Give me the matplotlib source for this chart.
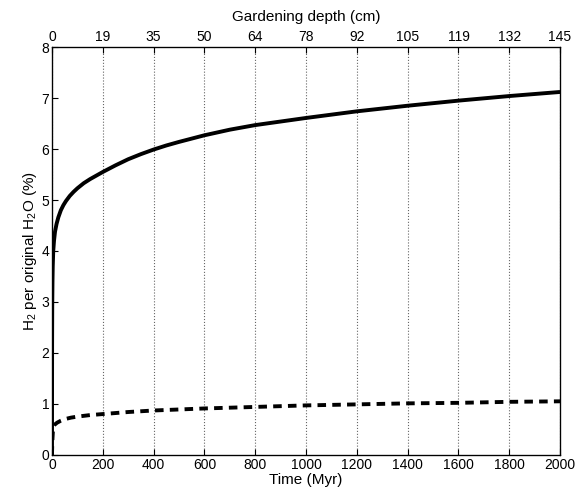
import matplotlib
matplotlib.use("Agg")
import matplotlib.pyplot as plt
import numpy as np

plt.rcParams["font.family"] = ["Liberation Sans", "DejaVu Sans"]
plt.rcParams["mathtext.fontset"] = "custom"
plt.rcParams["mathtext.rm"] = "Liberation Sans"

# solid curve: H2 per original H2O (%) vs time (Myr)
time_solid = [0, 0.5, 1, 2, 3, 5, 8, 12, 18, 25, 35, 45, 55, 70, 85, 100, 125, 150,
              175, 200, 250, 300, 350, 400, 450, 500, 600, 700, 800, 900, 1000,
              1200, 1400, 1600, 1800, 2000]
h2_solid = [0, 2.2, 2.9, 3.4, 3.7, 4.0, 4.2, 4.38, 4.53, 4.66, 4.8, 4.9, 4.98, 5.08,
            5.16, 5.23, 5.33, 5.41, 5.48, 5.55, 5.68, 5.8, 5.9, 5.99, 6.07, 6.14,
            6.27, 6.38, 6.47, 6.54, 6.61, 6.74, 6.85, 6.95, 7.04, 7.12]

# dashed curve
time_dash = [0, 1, 2, 4, 6, 10, 20, 35, 50, 75, 100, 150, 200, 300, 400, 600,
             800, 1000, 1200, 1400, 1600, 1800, 2000]
h2_dash = [0, 0.2, 0.32, 0.5, 0.56, 0.59, 0.63, 0.67, 0.7, 0.73, 0.75, 0.78, 0.8,
           0.84, 0.87, 0.91, 0.94, 0.97, 0.99, 1.01, 1.02, 1.04, 1.05]

x_ticks = [0, 200, 400, 600, 800, 1000, 1200, 1400, 1600, 1800, 2000]
depth_labels = ["0", "19", "35", "50", "64", "78", "92", "105", "119", "132", "145"]

fig = plt.figure(figsize=(5.84, 4.96), dpi=100)
ax = fig.add_axes([0.089, 0.083, 0.870, 0.822])

ax.plot(time_solid, h2_solid, color="black", linewidth=2.8, solid_capstyle="butt")
ax.plot(time_dash, h2_dash, color="black", linewidth=2.8, linestyle=(0, (2.2, 1.6)))

ax.set_xlim(0, 2000)
ax.set_ylim(0, 8)
ax.set_xticks(x_ticks)
ax.set_yticks(range(0, 9))
ax.tick_params(direction="in", labelsize=10, length=4, width=0.8, pad=2)
ax.grid(True, axis="x", linestyle=":", color="#666666", linewidth=0.8)
for sp in ax.spines.values():
    sp.set_linewidth(0.9)

ax.set_xlabel("Time (Myr)", fontsize=11, labelpad=1)
ax.set_ylabel(r"H$_2$ per original H$_2$O (%)", fontsize=11, labelpad=2)

ax_top = ax.twiny()
ax_top.set_xlim(ax.get_xlim())
ax_top.set_xticks(x_ticks)
ax_top.set_xticklabels(depth_labels)
ax_top.tick_params(direction="in", labelsize=10, length=4, width=0.8, pad=2)
ax_top.set_xlabel("Gardening depth (cm)", fontsize=11, labelpad=7)

fig.savefig("out.png", dpi=100)
